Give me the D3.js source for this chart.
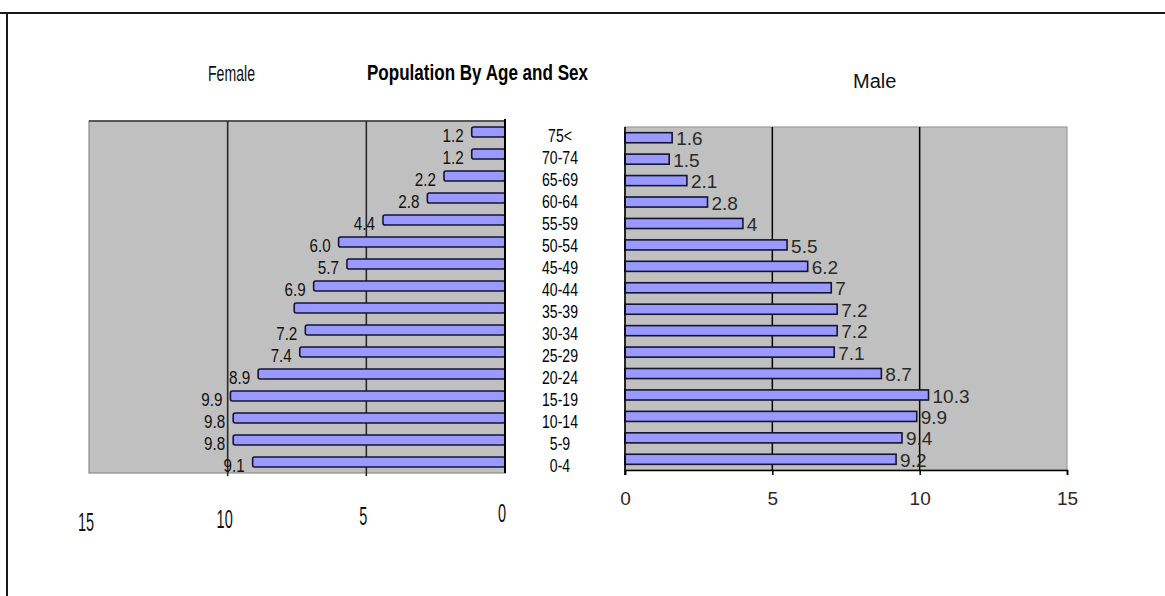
<!DOCTYPE html>
<html>
<head>
<meta charset="utf-8">
<script src="https://cdn.jsdelivr.net/npm/d3@7"></script>
<style>
  html, body { margin: 0; padding: 0; background: #fff; }
  svg { display: block; }
  text { font-family: "Liberation Sans", Arial, sans-serif; }
</style>
</head>
<body>
<svg id="chart" width="1165" height="596"></svg>
<script>
// Age groups, oldest at the top
const ageGroups = ["75<", "70-74", "65-69", "60-64", "55-59", "50-54", "45-49", "40-44",
                   "35-39", "30-34", "25-29", "20-24", "15-19", "10-14", "5-9", "0-4"];
// Percentage of population in each age group
const femaleValues = [1.2, 1.2, 2.2, 2.8, 4.4, 6.0, 5.7, 6.9, 7.6, 7.2, 7.4, 8.9, 9.9, 9.8, 9.8, 9.1];
const maleValues   = [1.6, 1.5, 2.1, 2.8, 4, 5.5, 6.2, 7, 7.2, 7.2, 7.1, 8.7, 10.3, 9.9, 9.4, 9.2];
// Age groups drawn on the female side without a value label
const femaleUnlabeled = ["35-39"];
const axisTicks = [0, 5, 10, 15];
const gridTicks = [5, 10];

const svg = d3.select("#chart");
const female = ageGroups.map((g, i) => ({ group: g, value: femaleValues[i] }));
const male = ageGroups.map((g, i) => ({ group: g, value: maleValues[i] }));

const BAR_FILL = "#9999ff", BAR_STROKE = "#151530", PANEL = "#c0c0c0";

// Horizontally squeezed text, for the narrow lettering
function narrow(sel, fx, fy, sx) {
  return sel.attr("transform", (d, i) => `translate(${fx(d, i)},${fy(d, i)}) scale(${sx},1)`);
}

// Outer frame lines
svg.append("line").attr("x1", 0).attr("x2", 1165).attr("y1", 13).attr("y2", 13)
  .attr("stroke", "#1a1a1a").attr("stroke-width", 2);
svg.append("line").attr("x1", 7).attr("x2", 7).attr("y1", 13).attr("y2", 596)
  .attr("stroke", "#1a1a1a").attr("stroke-width", 2);

// ---------- Female panel (values grow to the left) ----------
const xF = d3.scaleLinear().domain([0, 15]).range([505, 89]);
const yF = d3.scaleBand().domain(ageGroups).range([121, 473]).paddingInner(0.55).paddingOuter(0.275);
const gF = svg.append("g");

gF.append("rect").attr("x", xF(15)).attr("y", 121).attr("width", xF(0) - xF(15)).attr("height", 352)
  .attr("fill", PANEL).attr("stroke", "#8a8a8a").attr("stroke-width", 1.2);
gF.append("line").attr("x1", xF(15)).attr("x2", xF(0)).attr("y1", 121).attr("y2", 121)
  .attr("stroke", "#3a3a3a").attr("stroke-width", 1.6);
gF.selectAll("line.grid").data(gridTicks).join("line").attr("class", "grid")
  .attr("x1", d => xF(d)).attr("x2", d => xF(d)).attr("y1", 121).attr("y2", 476)
  .attr("stroke", "#2a2a2a").attr("stroke-width", 1.6);

gF.selectAll("rect.bar").data(female).join("rect").attr("class", "bar")
  .attr("x", d => xF(d.value)).attr("y", d => yF(d.group))
  .attr("width", d => xF(0) - xF(d.value)).attr("height", yF.bandwidth())
  .attr("rx", 2)
  .attr("fill", BAR_FILL).attr("stroke", BAR_STROKE).attr("stroke-width", 1.6);

gF.append("line").attr("x1", xF(0)).attr("x2", xF(0)).attr("y1", 119).attr("y2", 473)
  .attr("stroke", "#000").attr("stroke-width", 2);

const fmtF = d3.format(".1f");
narrow(gF.selectAll("text.val").data(female.filter(d => !femaleUnlabeled.includes(d.group)))
  .join("text").attr("class", "val")
  .attr("text-anchor", "end").attr("dy", "0.35em")
  .attr("font-size", 19).attr("fill", "#111")
  .text(d => fmtF(d.value)),
  d => xF(d.value) - 8, d => yF(d.group) + yF.bandwidth() / 2 + 3, 0.8);

narrow(gF.selectAll("text.tick").data(axisTicks).join("text").attr("class", "tick")
  .attr("text-anchor", "middle").attr("dy", "0.35em")
  .attr("font-size", 25).attr("fill", "#111")
  .text(d => d),
  d => xF(d) - 3, (d) => 513 + d * 0.6, 0.58);

// ---------- Age group labels ----------
narrow(svg.append("g").selectAll("text").data(ageGroups).join("text")
  .attr("text-anchor", "middle").attr("dy", "0.35em")
  .attr("font-size", 19).attr("fill", "#000")
  .text(d => d),
  () => 560, d => yF(d) + yF.bandwidth() / 2 + 3, 0.74);

// ---------- Male panel ----------
const xM = d3.scaleLinear().domain([0, 15]).range([625, 1067]);
const yM = d3.scaleBand().domain(ageGroups).range([127, 470]).paddingInner(0.53).paddingOuter(0.265);
const gM = svg.append("g");

gM.append("rect").attr("x", xM(0)).attr("y", 127).attr("width", xM(15) - xM(0)).attr("height", 343)
  .attr("fill", PANEL).attr("stroke", "#9a9a9a").attr("stroke-width", 1.2);
gM.selectAll("line.grid").data(gridTicks).join("line").attr("class", "grid")
  .attr("x1", d => xM(d)).attr("x2", d => xM(d)).attr("y1", 127).attr("y2", 470)
  .attr("stroke", "#000").attr("stroke-width", 1.5);

gM.selectAll("rect.bar").data(male).join("rect").attr("class", "bar")
  .attr("x", xM(0)).attr("y", d => yM(d.group))
  .attr("width", d => xM(d.value) - xM(0)).attr("height", yM.bandwidth())
  .attr("fill", BAR_FILL).attr("stroke", BAR_STROKE).attr("stroke-width", 1.6);

gM.selectAll("text.val").data(male).join("text").attr("class", "val")
  .attr("x", d => xM(d.value) + 4).attr("y", d => yM(d.group) + yM.bandwidth() / 2 + 1)
  .attr("dy", "0.35em").attr("font-size", 19).attr("fill", "#2a2a2a")
  .text(d => String(d.value));

const axM = gM.append("g").attr("transform", "translate(0,470)")
  .call(d3.axisBottom(xM).tickValues(axisTicks).tickSize(5).tickPadding(17));
axM.select(".domain").attr("stroke", "#000").attr("stroke-width", 1.5);
axM.selectAll(".tick line").attr("stroke", "#000").attr("stroke-width", 1.5);
axM.selectAll(".tick text").attr("font-family", "Liberation Sans, Arial, sans-serif")
  .attr("font-size", 19).attr("fill", "#2a2a2a");

gM.append("line").attr("x1", xM(0)).attr("x2", xM(0)).attr("y1", 127).attr("y2", 475)
  .attr("stroke", "#000").attr("stroke-width", 1.6);

// ---------- Titles ----------
svg.append("text").attr("x", 367).attr("y", 80)
  .attr("font-size", 22).attr("font-weight", "bold").attr("fill", "#000")
  .attr("textLength", 221).attr("lengthAdjust", "spacingAndGlyphs")
  .text("Population By Age and Sex");
svg.append("text").attr("x", 208).attr("y", 81)
  .attr("font-size", 22).attr("fill", "#111")
  .attr("textLength", 47).attr("lengthAdjust", "spacingAndGlyphs")
  .text("Female");
svg.append("text").attr("x", 853).attr("y", 88)
  .attr("font-size", 20).attr("fill", "#111")
  .text("Male");
</script>
</body>
</html>
